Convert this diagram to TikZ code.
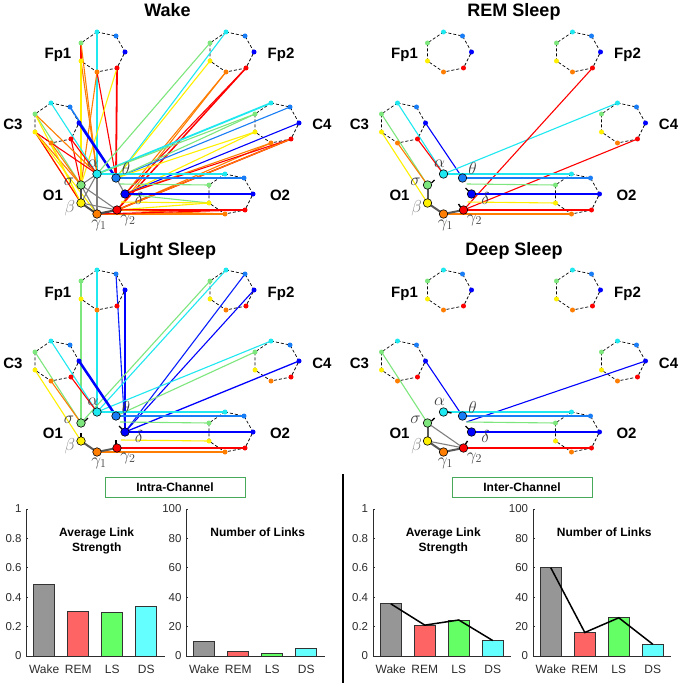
\documentclass[tikz,border=0pt]{standalone}
\usepackage{fontspec}
\setmainfont{Liberation Sans}
\pgfdeclarelayer{bg}
\pgfdeclarelayer{lk}
\pgfsetlayers{bg,lk,main}
\definecolor{bandd}{RGB}{0,0,255}
\definecolor{bandt}{RGB}{25,125,245}
\definecolor{banda}{RGB}{30,232,240}
\definecolor{bands}{RGB}{125,230,125}
\definecolor{bandb}{RGB}{255,240,0}
\definecolor{bandgi}{RGB}{255,125,0}
\definecolor{bandgii}{RGB}{255,0,0}
\definecolor{barW}{RGB}{150,150,150}
\definecolor{barR}{RGB}{255,100,100}
\definecolor{barL}{RGB}{100,255,100}
\definecolor{barD}{RGB}{100,255,255}
\definecolor{boxgreen}{RGB}{70,170,90}
\definecolor{axgray}{RGB}{45,45,45}
\tikzset{
  sdot/.style={circle,inner sep=0pt,minimum size=5pt,fill=#1},
  bdot/.style={circle,inner sep=0pt,minimum size=8.5pt,fill=#1,draw=black,line width=0.6pt},
  outl/.style={black,line width=0.7pt,dash pattern=on 3pt off 2pt},
  ttl/.style={font=\fontsize{18}{18}\selectfont\bfseries,anchor=base,inner sep=0pt},
  chlab/.style={font=\fontsize{15}{15}\selectfont\bfseries,anchor=base,inner sep=0pt},
  glab/.style={font=\fontsize{17.28}{17.28}\selectfont,text=black!75,inner sep=0pt},
  tickm/.style={line width=1.4pt,black},
  axl/.style={axgray,line width=0.7pt},
  ticklab/.style={font=\fontsize{11.5}{11.5}\selectfont,text=axgray,anchor=east,inner sep=0pt},
  catlab/.style={font=\fontsize{12}{12}\selectfont,text=axgray,anchor=base,inner sep=0pt},
  ctitle/.style={font=\fontsize{12}{12}\selectfont\bfseries,anchor=base,inner sep=0pt},
  barbox/.style={draw=black!80,line width=0.7pt},
  trend/.style={black,line width=1.5pt},
  sect/.style={draw=boxgreen,line width=1pt,minimum width=140pt,minimum height=20pt,font=\fontsize{12}{12}\selectfont\bfseries}
}
\newcommand{\smallhept}[3]{%
  \foreach \bn/\bc/\ox/\oy in {a/banda/0/0,t/bandt/19/4,d/bandd/28/20,g2/bandgii/20/36,g1/bandgi/0/40,b/bandb/-16/29,s/bands/-16/11}
    {\node[sdot=\bc] (#1-\bn) at ({#2+\ox},{#3+\oy}) {};}
  \begin{pgfonlayer}{bg}
    \draw[outl] (#1-a.center) -- (#1-t.center) -- (#1-d.center) -- (#1-g2.center) -- (#1-g1.center) -- (#1-b.center) -- (#1-s.center) -- cycle;
  \end{pgfonlayer}}
\newcommand{\bighept}[3]{%
  \foreach \bn/\bc/\ox/\oy in {a/banda/0/0,t/bandt/19/4,d/bandd/28/20,g2/bandgii/20/36,g1/bandgi/0/40,b/bandb/-16/29,s/bands/-16/11}
    {\node[bdot=\bc] (#1-\bn) at ({#2+\ox},{#3+\oy}) {};}}
\newcommand{\brainpanel}[4]{%
\begin{scope}[shift={(#2,#3)}]
  \node[ttl] (#1-title) at (167.5,17) {#4};
  \smallhept{#1-Fp1}{97}{32}
  \smallhept{#1-Fp2}{226}{32}
  \smallhept{#1-C3}{51}{103}
  \smallhept{#1-C4}{271}{103}
  \bighept{#1-O1}{97}{174}
  \smallhept{#1-O2}{225}{174}
  \node[chlab] (#1-Fp1-name) at (58,59) {Fp1};
  \node[chlab] (#1-Fp2-name) at (281,59) {Fp2};
  \node[chlab] (#1-C3-name) at (13,130) {C3};
  \node[chlab] (#1-C4-name) at (322,130) {C4};
  \node[chlab] (#1-O1-name) at (53,200) {O1};
  \node[chlab] (#1-O2-name) at (280,200) {O2};
  \node[glab] (#1-la) at (93,164) {$\alpha$};
  \node[glab] (#1-lt) at (126,169) {$\theta$};
  \node[glab] (#1-ld) at (139,198) {$\delta$};
  \node[glab] (#1-ls) at (69,182) {$\sigma$};
  \node[glab,text=black!50] (#1-lb) at (70,208) {$\beta$};
  \node[glab] (#1-lg1) at (99,225) {$\gamma_1$};
  \node[glab] (#1-lg2) at (128,220) {$\gamma_2$};
  \coordinate (#1-Pu) at (120,184);
  \coordinate (#1-Pl) at (121,202);
\end{scope}}
\newcommand{\lnk}[4][1.1pt]{\draw[line width=#1,draw=#2] (#3.center) -- (#4.center);}
\newcommand{\tmark}[3]{\draw[tickm] ([shift={(#2)}]#1.center) -- ++(#3);}
\newcommand{\axesfrac}[2]{%
  \draw[axl] (#2,509) -- (#2,656) -- ({#2+138},656);
  \foreach \k/\t in {0/0,1/0.2,2/0.4,3/0.6,4/0.8,5/1}{%
    \draw[axl] (#2,{656-29.4*\k}) -- ({#2+1.5},{656-29.4*\k});
    \node[ticklab] (#1-y\k) at ({#2-5},{656-29.4*\k}) {\t};}}
\newcommand{\axespct}[2]{%
  \draw[axl] (#2,509) -- (#2,656) -- ({#2+138},656);
  \foreach \k/\t in {0/0,1/20,2/40,3/60,4/80,5/100}{%
    \draw[axl] (#2,{656-29.4*\k}) -- ({#2+1.5},{656-29.4*\k});
    \node[ticklab] (#1-y\k) at ({#2-5},{656-29.4*\k}) {\t};}}
\newcommand{\bars}[7]{%
  \draw[barbox,fill=barW] ({#2+7},656) rectangle ({#2+28},{656-#3*#4});
  \draw[barbox,fill=barR] ({#2+41},656) rectangle ({#2+62},{656-#3*#5});
  \draw[barbox,fill=barL] ({#2+75},656) rectangle ({#2+96},{656-#3*#6});
  \draw[barbox,fill=barD] ({#2+109},656) rectangle ({#2+130},{656-#3*#7});
  \node[catlab] (#1-cw) at ({#2+17.5},673) {Wake};
  \node[catlab] (#1-cr) at ({#2+51.5},673) {REM};
  \node[catlab] (#1-cl) at ({#2+85.5},673) {LS};
  \node[catlab] (#1-cd) at ({#2+119.5},673) {DS};}
\newcommand{\trendline}[6]{%
  \draw[trend] ({#1+17.5},{656-#2*#3}) -- ({#1+51.5},{656-#2*#4}) -- ({#1+85.5},{656-#2*#5}) -- ({#1+119.5},{656-#2*#6});}
\begin{document}
\begin{tikzpicture}[x=1pt,y=-1pt]
\useasboundingbox (0,0) rectangle (680,687);
\begin{pgfonlayer}{bg}
\fill[white] (0,0) rectangle (680,687);
\end{pgfonlayer}
\brainpanel{W}{0}{0}{Wake}
\brainpanel{R}{346.5}{0}{REM Sleep}
\brainpanel{L}{0}{238}{Light Sleep}
\brainpanel{D}{346.5}{238}{Deep Sleep}
\begin{pgfonlayer}{lk}
% ---------- Wake ----------
\lnk{banda}{W-Fp1-a}{W-O1-a}
\lnk[1.8pt]{bandgii}{W-Fp1-g2}{W-O1-t}
\lnk{bandgi}{W-Fp1-g1}{W-O1-s}
\lnk{bandgii}{W-Fp1-g1}{W-O1-t}
\lnk{bandb}{W-Fp1-g2}{W-O1-s}
\lnk{bandgi}{W-Fp1-b}{W-O1-a}
\lnk{bandgii}{W-Fp1-s}{W-O1-s}
\lnk{bandgi}{W-Fp1-s}{W-O1-a}
\lnk{bandb}{W-Fp1-b}{W-O1-b}
\lnk{banda}{W-C3-a}{W-O1-a}
\lnk[1.5pt]{bandt}{W-C3-t}{W-O1-t}
\lnk[2.5pt]{bandd}{W-C3-d}{W-O1-t}
\lnk{bandgii}{W-C3-g2}{W-O1-a}
\lnk{bandgii}{W-C3-g2}{W-O1-s}
\lnk{bands}{W-C3-s}{W-O1-s}
\lnk{bandgi}{W-C3-s}{W-O1-a}
\lnk{bandb}{W-C3-s}{W-O1-b}
\lnk{bandb}{W-C3-b}{W-O1-b}
\lnk{bandgii}{W-C3-b}{W-O1-a}
\lnk{bandgii}{W-C3-b}{W-O1-b}
\lnk{bandgi}{W-C3-b}{W-O1-s}
\lnk{bandb}{W-C3-b}{W-O1-g1}
\lnk{bandgi}{W-C3-g1}{W-O1-s}
\lnk{bandb}{W-C3-g1}{W-O1-b}
\lnk{bands}{W-Fp2-s}{W-O1-a}
\lnk{banda}{W-Fp2-a}{W-O1-t}
\lnk{bandb}{W-Fp2-b}{W-O1-t}
\lnk{bandgi}{W-Fp2-g1}{W-O1-d}
\lnk{bandgi}{W-Fp2-g1}{W-O1-g2}
\lnk{bandgii}{W-Fp2-g2}{W-O1-d}
\lnk[1.5pt]{bandgii}{W-Fp2-g2}{W-O1-g2}
\lnk[1.8pt]{banda}{W-C4-a}{W-O1-a}
\lnk{bandt}{W-C4-t}{W-O1-t}
\lnk{bands}{W-C4-s}{W-O1-a}
\lnk{bands}{W-C4-s}{W-O1-t}
\lnk{bandb}{W-C4-b}{W-O1-t}
\lnk{bandb}{W-C4-b}{W-O1-d}
\lnk{bandd}{W-C4-d}{W-O1-d}
\lnk{bandgi}{W-C4-g1}{W-O1-g2}
\lnk{bandgi}{W-C4-g1}{W-O1-d}
\lnk[1.5pt]{bandgii}{W-C4-g2}{W-O1-g2}
\lnk{bandgii}{W-C4-g2}{W-O1-d}
\lnk{bandgi}{W-C4-g2}{W-O1-g2}
\lnk[2pt]{banda}{W-O2-a}{W-O1-a}
\lnk[2pt]{bandt}{W-O2-t}{W-O1-t}
\lnk{bands}{W-O2-s}{W-Pu}
\lnk{bands}{W-O2-b}{W-O1-d}
\lnk[2pt]{bandd}{W-O2-d}{W-O1-d}
\lnk{bandb}{W-O2-b}{W-O1-g2}
\lnk{bandb}{W-O2-b}{W-Pl}
\lnk[2.5pt]{bandgii}{W-O2-g2}{W-O1-g2}
\lnk{bandgi}{W-O2-g1}{W-O1-g1}
\lnk{bandgi}{W-O2-g1}{W-O1-g2}
\lnk{bandgii}{W-O2-g2}{W-O1-g1}
% intra wake
\lnk[1.1pt]{black!50}{W-O1-a}{W-O1-s}
\lnk[1.1pt]{black!50}{W-O1-a}{W-O1-b}
\lnk[1.1pt]{black!50}{W-O1-a}{W-O1-g1}
\lnk[2pt]{black!70}{W-O1-s}{W-O1-b}
\lnk[1.1pt]{black!50}{W-O1-s}{W-O1-g1}
\lnk[1.1pt]{black!50}{W-O1-s}{W-O1-g2}
\lnk[2pt]{black!70}{W-O1-b}{W-O1-g1}
\lnk[1.1pt]{black!50}{W-O1-b}{W-O1-g2}
\lnk[2.2pt]{black!70}{W-O1-g1}{W-O1-g2}
\lnk[1.1pt]{black!50}{W-O1-t}{W-O1-d}
% ---------- REM ----------
\lnk{banda}{R-C3-a}{R-O1-a}
\lnk{bandd}{R-C3-d}{R-O1-t}
\lnk{bandgii}{R-C3-g2}{R-O1-a}
\lnk{bands}{R-C3-s}{R-O1-s}
\lnk{bandgi}{R-C3-g1}{R-O1-s}
\lnk{bandb}{R-C3-b}{R-O1-b}
\lnk{banda}{R-C4-a}{R-O1-a}
\lnk{bandgii}{R-C4-g2}{R-O1-g2}
\lnk{bandgii}{R-Fp2-g2}{R-O1-g2}
\lnk[1.5pt]{banda}{R-O2-a}{R-O1-a}
\lnk[1.5pt]{bandt}{R-O2-t}{R-O1-t}
\lnk{bands}{R-O2-s}{R-Pu}
\lnk[1.5pt]{bandd}{R-O2-d}{R-O1-d}
\lnk{bandb}{R-O2-b}{R-Pl}
\lnk[1.8pt]{bandgii}{R-O2-g2}{R-O1-g2}
\lnk{bandgi}{R-O2-g1}{R-O1-g1}
\lnk[2pt]{black!65}{R-O1-s}{R-O1-b}
\lnk[2pt]{black!65}{R-O1-b}{R-O1-g1}
\lnk[2pt]{black!65}{R-O1-g1}{R-O1-g2}
% ---------- Light ----------
\lnk{bands}{L-Fp1-s}{L-O1-s}
\lnk{banda}{L-Fp1-a}{L-O1-a}
\lnk{bandd!75!bandt}{L-Fp1-t}{L-O1-d}
\lnk[1.5pt]{bandd}{L-Fp1-d}{L-O1-d}
\lnk{bands}{L-Fp2-s}{L-O1-s}
\lnk{banda}{L-Fp2-a}{L-O1-a}
\lnk{bandd!75!bandt}{L-Fp2-t}{L-O1-d}
\lnk{bandd}{L-Fp2-d}{L-O1-d}
\lnk{banda}{L-C4-a}{L-O1-a}
\lnk{bands}{L-C4-s}{L-O1-t}
\lnk[1.3pt]{bandd}{L-C4-d}{L-O1-d}
\lnk{banda}{L-C3-a}{L-O1-a}
\lnk[2.5pt]{bandd}{L-C3-d}{L-O1-t}
\lnk{bandgii}{L-C3-g2}{L-O1-a}
\lnk{bands}{L-C3-s}{L-O1-s}
\lnk{bandgi}{L-C3-g1}{L-O1-s}
\lnk{bandb}{L-C3-b}{L-O1-b}
\lnk[1.5pt]{banda}{L-O2-a}{L-O1-a}
\lnk[1.5pt]{bandt}{L-O2-t}{L-O1-t}
\lnk{bands}{L-O2-s}{L-Pu}
\lnk[1.5pt]{bandd}{L-O2-d}{L-O1-d}
\lnk{bandb}{L-O2-b}{L-Pl}
\lnk[1.5pt]{bandgii}{L-O2-g2}{L-O1-g2}
\lnk{bandgi}{L-O2-g1}{L-O1-g1}
\lnk[2pt]{black!65}{L-O1-b}{L-O1-g1}
\lnk[2pt]{black!65}{L-O1-g1}{L-O1-g2}
% ---------- Deep ----------
\lnk{bands}{D-C3-s}{D-O1-s}
\lnk{bandd}{D-C3-d}{D-O1-t}
\lnk{bandd}{D-C4-d}{D-Pu}
\lnk{banda}{D-O2-a}{D-O1-a}
\lnk{bandt}{D-O2-t}{D-O1-t}
\lnk{bands}{D-O2-s}{D-Pu}
\lnk[1.5pt]{bandd}{D-O2-d}{D-O1-d}
\lnk[1.3pt]{bandgii}{D-O2-g2}{D-O1-g2}
\lnk[2pt]{black!65}{D-O1-s}{D-O1-b}
\lnk[1.1pt]{black!50}{D-O1-s}{D-O1-g2}
\lnk[2pt]{black!65}{D-O1-b}{D-O1-g1}
\lnk[1.1pt]{black!50}{D-O1-b}{D-O1-g2}
\lnk[2pt]{black!65}{D-O1-g1}{D-O1-g2}
\end{pgfonlayer}
% small marks
\tmark{R-O1-s}{4,-2}{3,-3}
\tmark{R-O1-d}{-3,-3}{-3,-3}
\tmark{R-O1-g2}{-3,-3}{-2,-3}
\tmark{L-O1-s}{4,-2}{3,-3}
\tmark{L-O1-b}{0,-4}{0,-4}
\tmark{L-O1-d}{-3,-3}{-3,-3}
\tmark{L-O1-g2}{-1,-4}{0,-4}
\tmark{D-O1-a}{4,0}{4,1}
\tmark{D-O1-s}{4,-2}{3,-3}
\tmark{D-O1-d}{-3,-3}{-3,-3}
\tmark{D-O1-g2}{2,-4}{2,-3}
% ---------- charts ----------
\node[sect] (intra) at (175,487) {Intra-Channel};
\node[sect] (inter) at (522,487) {Inter-Channel};
\draw[line width=1.2pt] (343,474) -- (343,683);
\bars{c1}{26.7}{147}{0.49}{0.305}{0.30}{0.34}
\axesfrac{c1}{26.7}
\node[ctitle] (c1-t1) at (96.7,536) {Average Link};
\node[ctitle] (c1-t2) at (96.7,551) {Strength};
\bars{c2}{186.7}{1.47}{10}{3}{2}{5}
\axespct{c2}{186.7}
\node[ctitle] (c2-t1) at (257.7,536) {Number of Links};
\bars{c3}{373.3}{147}{0.355}{0.21}{0.245}{0.105}
\axesfrac{c3}{373.3}
\trendline{373.3}{147}{0.355}{0.21}{0.245}{0.105}
\node[ctitle] (c3-t1) at (443.3,536) {Average Link};
\node[ctitle] (c3-t2) at (443.3,551) {Strength};
\bars{c4}{533.3}{1.47}{60}{16}{26}{8}
\axespct{c4}{533.3}
\trendline{533.3}{1.47}{60}{16}{26}{8}
\node[ctitle] (c4-t1) at (604.3,536) {Number of Links};
\end{tikzpicture}
\end{document}
